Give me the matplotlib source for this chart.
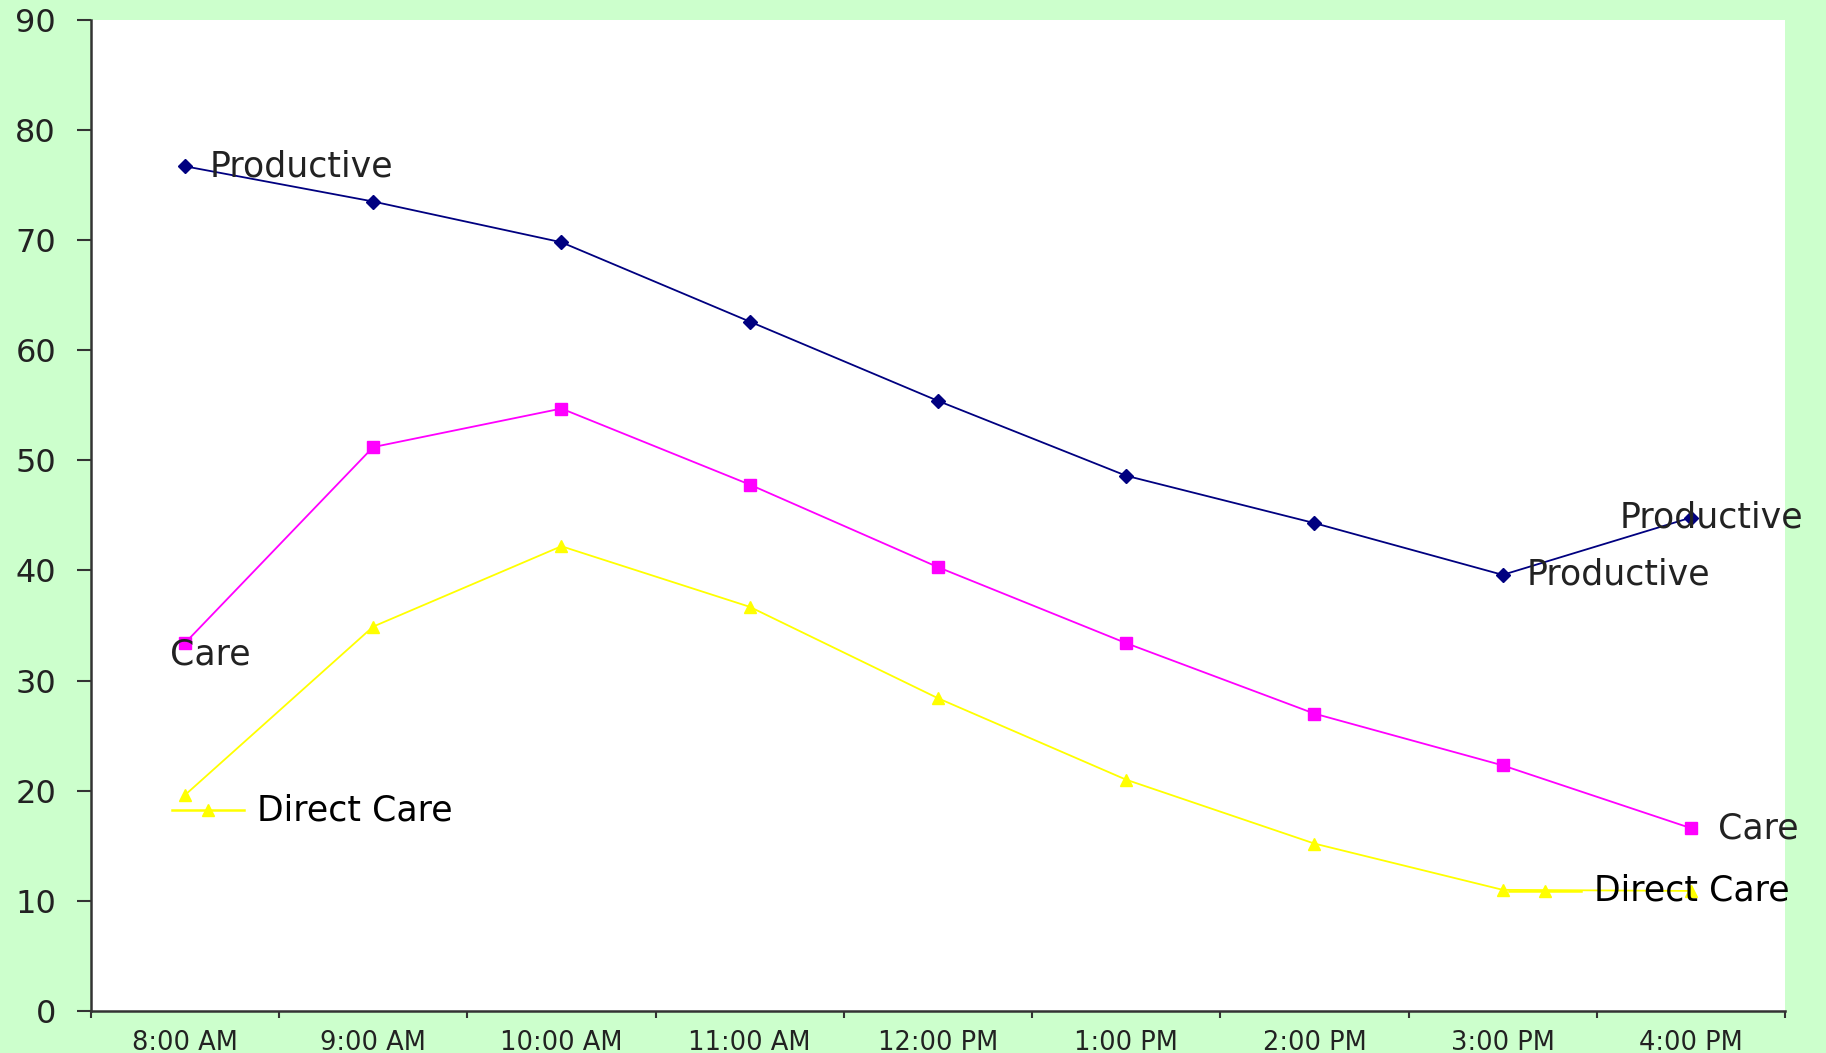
import matplotlib.pyplot as plt
from matplotlib.transforms import IdentityTransform

times = ["8:00 AM", "9:00 AM", "10:00 AM", "11:00 AM", "12:00 PM",
		"1:00 PM", "2:00 PM", "3:00 PM", "4:00 PM"]
productive = [76.7, 73.5, 69.8, 62.6, 55.4, 48.6, 44.3, 39.6, 44.8]
care = [33.4, 51.2, 54.7, 47.8, 40.3, 33.4, 27.0, 22.3, 16.6]
direct_care = [19.6, 34.9, 42.2, 36.7, 28.4, 21.0, 15.2, 11.0, 10.9]

BG = "#ccffcc"
TXT = "#222222"
LABEL_SIZE = 25

plt.rcParams["font.family"] = ["DejaVu Sans"]

fig = plt.figure(figsize=(18.26, 10.53), dpi=100, facecolor=BG)
ax = fig.add_axes([0.0497, 0.0399, 0.9279, 0.9413])
ax.set_facecolor("white")

x = list(range(len(times)))
ax.plot(x, productive, color="#000080", lw=1.3, marker="D", ms=7, zorder=3)
ax.plot(x, care, color="#ff00ff", lw=1.3, marker="s", ms=8, zorder=3)
ax.plot(x, direct_care, color="#ffff00", lw=1.3, marker="^", ms=9, zorder=3)

ax.set_xlim(-0.5, len(times) - 0.5)
ax.set_ylim(0, 90)

# axis styling: only left/bottom spines, ticks between categories
for side in ("top", "right"):
	ax.spines[side].set_visible(False)
for side in ("left", "bottom"):
	ax.spines[side].set_color("#333333")
	ax.spines[side].set_linewidth(1.8)

ax.set_yticks(range(0, 91, 10))
ax.tick_params(axis="y", length=10, width=1.5, color="#333333",
			   labelsize=23, labelcolor=TXT, pad=15)
ax.set_xticks([i - 0.5 for i in range(len(times) + 1)])
ax.set_xticklabels([])
ax.set_xticks(x, minor=True)
ax.set_xticklabels(times, minor=True)
ax.tick_params(axis="x", which="major", length=5, width=1.5, color="#333333")
ax.tick_params(axis="x", which="minor", length=0, labelsize=18.5,
			   labelcolor=TXT, pad=14)


def label(i, v, text, dx, dy=0, ha="left", color=TXT):
	ax.annotate(text, xy=(i, v), xytext=(dx, dy), textcoords="offset pixels",
				ha=ha, va="center", fontsize=LABEL_SIZE, color=color, zorder=4)


def key_label(i, v, x0, x1, dy, text_dx, color="black"):
	# series label with a small line+marker legend key in front of it
	px, py = ax.transData.transform((i, v))
	ax.plot([px + x0, px + x1], [py + dy, py + dy], color="#ffff00", lw=1.8,
			transform=IdentityTransform(), zorder=4)
	ax.plot([px + (x0 + x1) / 2], [py + dy], color="#ffff00", marker="^", ms=9,
			transform=IdentityTransform(), zorder=4)
	label(i, v, "Direct Care", text_dx, dy, color=color)


last = len(times) - 1
label(0, productive[0], "Productive", 25)
label(0, care[0], "Care", -15, -11)
key_label(0, direct_care[0], -13, 59, -15, 72)

label(7, productive[7], "Productive", 24)
label(last, productive[last], "Productive", 20, ha="center")
label(last, care[last], "Care", 27)
key_label(last, direct_care[last], -182, -110, 0, -97, color="black")

fig.savefig("out.png", dpi=100, facecolor=BG)
